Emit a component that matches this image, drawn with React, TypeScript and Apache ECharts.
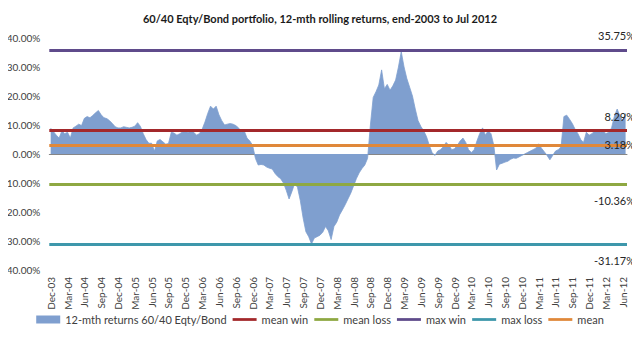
import React, { useEffect, useRef } from "react";
import * as echarts from "echarts";

const titleText = "60/40 Eqty/Bond portfolio, 12-mth rolling returns, end-2003 to Jul 2012";

const monthNames = ["Jan", "Feb", "Mar", "Apr", "May", "Jun", "Jul", "Aug", "Sep", "Oct", "Nov", "Dec"];

// 12-month rolling returns (%), two readings per month, Dec-03 .. Jun-12
const returns12m = [
  8.9, 7.7, 6.5, 5.5, 8.0, 7.0, 7.5, 5.5, 9.0, 9.6,
  10.3, 9.8, 12.3, 12.9, 12.5, 13.3, 14.2, 15.0, 13.5, 12.5,
  12.2, 11.5, 10.5, 9.4, 9.0, 9.0, 9.4, 9.2, 9.0, 9.2,
  9.6, 10.8, 9.5, 7.0, 5.0, 3.7, 3.7, 1.0, 4.5, 5.0,
  4.2, 3.4, 3.6, 7.5, 7.2, 6.5, 7.0, 7.6, 8.0, 7.4,
  8.2, 7.5, 6.5, 7.0, 8.5, 11.0, 14.0, 16.5, 15.5, 16.5,
  13.5, 11.5, 10.0, 10.3, 10.5, 10.3, 9.8, 9.0, 7.5, 8.0,
  5.5, 4.5, 3.0, -1.5, -3.8, -3.6, -3.8, -4.5, -4.9, -5.2,
  -6.7, -7.8, -8.5, -10.0, -12.5, -15.5, -13.0, -10.1, -11.5, -16.0,
  -22.0, -26.8, -28.5, -31.0, -29.0, -28.5, -28.0, -27.0, -25.0, -26.5,
  -29.5, -25.0, -23.5, -21.0, -19.3, -17.5, -15.5, -13.5, -11.0, -8.5,
  -6.5, -5.0, -3.8, -1.5, 10.0, 19.5, 21.5, 23.8, 29.0, 22.5,
  24.0, 22.0, 23.5, 25.5, 30.0, 35.3, 30.0, 26.0, 23.0, 20.0,
  15.5, 11.5, 9.5, 8.0, 6.0, 3.0, 0.5, -0.5, 1.0, 1.5,
  2.5, 4.0, 3.0, 1.5, 1.8, 3.0, 4.5, 5.5, 4.0, 1.5,
  0.5, 1.5, 4.5, 7.1, 9.0, 6.5, 8.0, 7.0, 3.0, -5.5,
  -3.5, -3.2, -2.8, -2.5, -1.8, -1.4, -1.5, -1.0, -0.5, 0.0,
  0.5, 1.0, 1.5, 2.0, 3.5, 2.0, 0.8, -0.5, -2.0, -0.5,
  1.0, 1.5, 2.5, 12.9, 13.4, 12.0, 10.5, 8.5, 7.0, 5.0,
  4.0, 7.5, 6.5, 7.0, 8.0, 8.0, 7.5, 8.0, 7.0, 7.5,
  9.0, 13.0, 15.5, 13.0, 11.5, 14.0,
];

const meanWin = 8.29;
const meanLoss = -10.36;
const maxWin = 35.75;
const maxLoss = -31.17;
const meanAll = 3.18;

const yTicks = { min: -40, max: 40, interval: 10 };

// Half-month categories: Dec-03 .. Jun-12
const months: string[] = [];
{
  let m = 11;
  let y = 3;
  while (!(y === 12 && m === 6)) {
    months.push(`${monthNames[m]}-${String(y).padStart(2, "0")}`);
    m++;
    if (m === 12) {
      m = 0;
      y++;
    }
  }
}
const categories: string[] = [];
months.forEach((mm) => {
  categories.push(mm + "|a");
  categories.push(mm + "|b");
});

const FONT = "Lato, 'Open Sans', sans-serif";
const BAR_COLOR = "#7F9FCF";
const LINE_ICON = "path://M0 0H26V3H0Z";

function App() {
  const ref = useRef<HTMLDivElement>(null);
  useEffect(() => {
    if (!ref.current) return;
    const chart = echarts.init(ref.current, null, { renderer: "svg" });
    const lineSeries = (name: string, value: number, color: string, position: string, dist: number) => ({
      name,
      type: "line",
      data: [],
      symbol: "none",
      color,
      lineStyle: { color, width: 3 },
      markLine: {
        silent: true,
        symbol: ["none", "none"],
        lineStyle: { color, width: 3, type: "solid" },
        label: {
          show: true,
          position,
          distance: [-8, dist],
          formatter: () => value.toFixed(2) + "%",
          color: "#262626",
          fontFamily: FONT,
          fontSize: 11,
        },
        data: [{ yAxis: value }],
      },
    });
    chart.setOption({
      animation: false,
      textStyle: { fontFamily: FONT },
      title: {
        text: titleText,
        left: "center",
        top: 8,
        textStyle: { fontSize: 11, fontWeight: "bold", color: "#1a1a1a", fontFamily: FONT },
      },
      legend: {
        bottom: 11,
        left: "center",
        itemWidth: 24,
        itemHeight: 8,
        itemGap: 6,
        textStyle: { fontSize: 11, color: "#404040", fontFamily: FONT },
        data: [
          { name: "12-mth returns 60/40 Eqty/Bond", icon: "rect" },
          { name: "mean win", icon: LINE_ICON },
          { name: "mean loss", icon: LINE_ICON },
          { name: "max win", icon: LINE_ICON },
          { name: "max loss", icon: LINE_ICON },
          { name: "mean", icon: LINE_ICON },
        ],
      },
      grid: { left: 48, right: 13, top: 38, bottom: 71 },
      xAxis: [
        {
          type: "category",
          data: categories,
          axisLine: { onZero: true, lineStyle: { color: "#868686", width: 1 } },
          axisTick: {
            alignWithLabel: true,
            interval: (i: number) => i % 6 === 0,
            length: 4,
            lineStyle: { color: "#868686" },
          },
          axisLabel: { show: false },
          splitLine: { show: false },
        },
        {
          type: "category",
          data: categories,
          position: "bottom",
          axisLine: { show: false, onZero: false },
          axisTick: { show: false },
          axisLabel: {
            interval: (i: number) => i % 6 === 0,
            rotate: 90,
            margin: 7,
            fontSize: 10,
            color: "#404040",
            fontFamily: FONT,
            formatter: (v: string) => v.split("|")[0],
          },
        },
      ],
      yAxis: {
        type: "value",
        min: yTicks.min,
        max: yTicks.max,
        interval: yTicks.interval,
        axisLine: { show: false },
        axisTick: { show: false },
        splitLine: { show: false },
        axisLabel: {
          margin: 9,
          fontSize: 10,
          color: "#404040",
          fontFamily: FONT,
          formatter: (v: number) => v.toFixed(2) + "%",
        },
      },
      series: [
        {
          name: "12-mth returns 60/40 Eqty/Bond",
          type: "line",
          data: returns12m,
          symbol: "none",
          color: BAR_COLOR,
          lineStyle: { color: BAR_COLOR, width: 0.8 },
          areaStyle: { color: BAR_COLOR, opacity: 1, origin: 0 },
          z: 1,
        },
        lineSeries("mean win", meanWin, "#A3282B", "insideEndTop", 8),
        lineSeries("mean loss", meanLoss, "#8EA842", "insideEndBottom", 11),
        lineSeries("max win", maxWin, "#5F4B8B", "insideEndTop", 9),
        lineSeries("max loss", maxLoss, "#3E97AB", "insideEndBottom", 11),
        lineSeries("mean", meanAll, "#E0883A", "insideEnd", 0),
      ],
    });
    return () => chart.dispose();
  }, []);
  return <div ref={ref} style={{ width: 640, height: 341, margin: -8 }} />;
}

export default App;
